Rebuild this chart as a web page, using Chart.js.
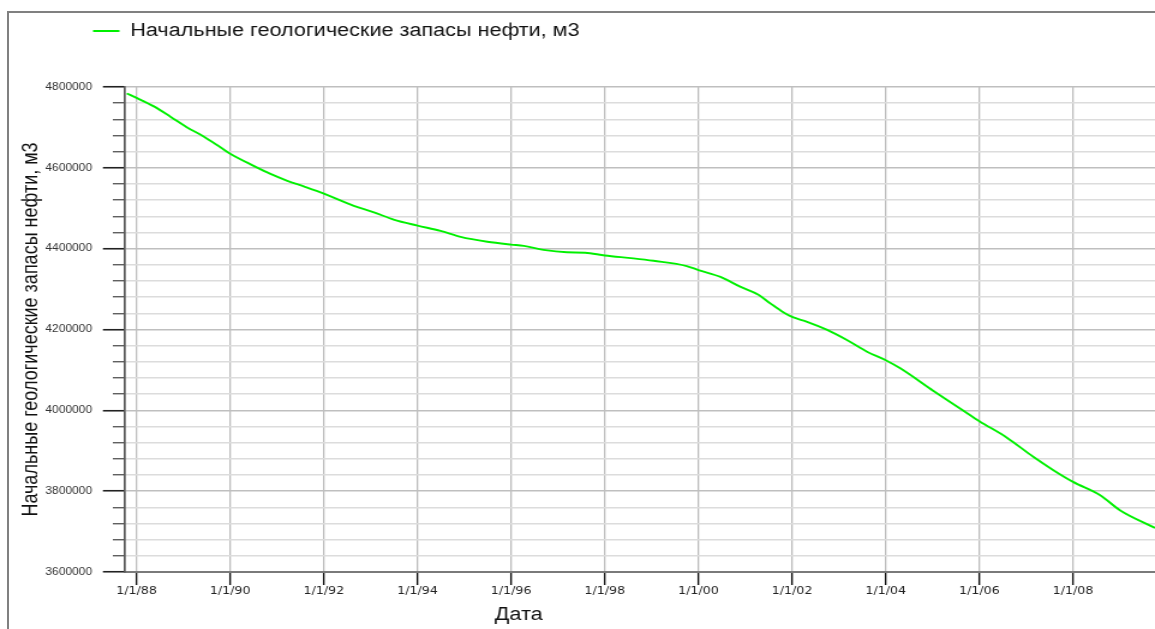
<!DOCTYPE html>
<html>
<head>
<meta charset="utf-8">
<script src="https://cdn.jsdelivr.net/npm/chart.js@4.4.1/dist/chart.umd.min.js"></script>
<style>
html, body { margin: 0; padding: 0; background: #fff; overflow: hidden; }
/* the original picture is stretched 1.2x horizontally, so the chart is drawn narrow and scaled */
#wrap { position: absolute; left: 0; top: 0; width: 962px; height: 629px; transform: scaleX(1.2006); transform-origin: 0 0; }
#frame { position: absolute; left: 7px; top: 11px; width: 1160px; height: 630px; border-left: 2px solid #808080; border-top: 2px solid #808080; }
</style>
</head>
<body>
<div id="wrap"><canvas id="chart" width="962" height="629"></canvas></div>
<div id="frame"></div>
<script>
// data (x = decimal year)
const years = [1987.79, 1988.0, 1988.37, 1988.73, 1989.08, 1989.44, 1989.79, 1990.0, 1990.5, 1990.86,
    1991.22, 1991.57, 1992.0, 1992.64, 1993.07, 1993.49, 1994.0, 1994.49, 1994.92, 1995.49,
    1996.0, 1996.27, 1996.69, 1997.19, 1997.58, 1998.0, 1998.61, 1999.04, 1999.75, 2000.0,
    2000.47, 2000.89, 2001.28, 2001.53, 2001.82, 2002.0, 2002.32, 2002.75, 2003.17, 2003.6,
    2004.0, 2004.31, 2005.02, 2005.66, 2006.0, 2006.58, 2007.15, 2007.58, 2008.0, 2008.58,
    2009.0, 2009.75];
const reserves = [4784000, 4773000, 4752000, 4726000, 4700000, 4677000, 4651000, 4635000, 4605000, 4585000,
    4568000, 4554000, 4536000, 4506000, 4490000, 4472000, 4457000, 4444000, 4429000, 4417000,
    4410000, 4407000, 4397000, 4391000, 4390000, 4383000, 4376000, 4370000, 4357000, 4347000,
    4330000, 4306000, 4286000, 4265000, 4242000, 4231000, 4219000, 4199000, 4174000, 4145000,
    4124000, 4104000, 4048000, 3999000, 3973000, 3933000, 3885000, 3852000, 3823000, 3790000,
    3753000, 3709000];

const xTickYears = [1988, 1990, 1992, 1994, 1996, 1998, 2000, 2002, 2004, 2006, 2008];
const xTickLabels = ['1/1/88', '1/1/90', '1/1/92', '1/1/94', '1/1/96', '1/1/98', '1/1/00', '1/1/02', '1/1/04', '1/1/06', '1/1/08'];
const yMajorTicks = [3600000, 3800000, 4000000, 4200000, 4400000, 4600000, 4800000];
const yTickLabels = ['3600000', '3800000', '4000000', '4200000', '4400000', '4600000', '4800000'];
const yMinorStep = 40000;

const seriesLabel = 'Начальные геологические запасы нефти, м3';
const yTitle = 'Начальные геологические запасы нефти, м3';
const xTitle = 'Дата';

const xMin = 1987.75, xMax = 2009.75;
const yMin = 3600000, yMax = 4800000;

const sans = '"Liberation Sans", Arial, sans-serif';

const layoutTweaks = {
    id: 'layoutTweaks',
    beforeLayout(chart) {
        const lg = chart.legend;
        if (lg && !lg._tweaked) {
            const fit = lg.fit;
            lg.fit = function () {
                fit.call(this);
                this.height = 75; // gap down to the plot
            };
            lg._tweaked = true;
        }
    },
    afterLayout(chart) {
        chart.legend.left = 67.5;
    },
    afterDraw(chart) {
        const ctx = chart.ctx;
        ctx.save();
        ctx.font = '18px ' + sans;
        ctx.fillStyle = '#111';
        ctx.textAlign = 'center';
        ctx.textBaseline = 'alphabetic';
        ctx.fillText(xTitle, 432, 619.5);
        ctx.restore();
    }
};

const isMajor = (v) => v % 200000 === 0;

new Chart(document.getElementById('chart'), {
    type: 'line',
    data: {
        datasets: [{
            label: seriesLabel,
            data: years.map((y, i) => ({ x: y, y: reserves[i] })),
            borderColor: '#00f000',
            backgroundColor: '#00f000',
            borderWidth: 1.9,
            pointRadius: 0,
            cubicInterpolationMode: 'monotone',
            fill: false,
            yAxisID: 'y'
        }]
    },
    options: {
        responsive: false,
        animation: false,
        devicePixelRatio: 1,
        layout: { padding: { top: 12, left: 0, right: 0, bottom: 0 } },
        plugins: {
            legend: {
                position: 'top',
                align: 'start',
                labels: {
                    usePointStyle: true,
                    pointStyle: 'line',
                    pointStyleWidth: 22,
                    padding: 10,
                    color: '#111',
                    font: { family: sans, size: 18 }
                }
            },
            tooltip: { enabled: false }
        },
        scales: {
            x: {
                type: 'linear',
                position: 'bottom',
                min: xMin,
                max: xMax,
                afterBuildTicks: (s) => { s.ticks = xTickYears.map(v => ({ value: v })); },
                afterFit: (s) => { s.height = 57; },
                ticks: {
                    callback: (v, i) => xTickLabels[i],
                    autoSkip: false,
                    maxRotation: 0,
                    padding: 0,
                    color: '#222',
                    font: { family: '"DejaVu Sans", Verdana, sans-serif', size: 10.5 }
                },
                grid: {
                    color: '#bdbdbd',
                    lineWidth: 1.3,
                    tickLength: 13,
                    tickColor: '#111',
                    tickWidth: 1.4
                },
                border: { color: '#7a7a7a', width: 2 }
            },
            yMinor: {
                type: 'linear',
                position: 'left',
                weight: 0,
                min: yMin,
                max: yMax,
                afterFit: (s) => { s.width = 0; },
                ticks: { display: false, stepSize: yMinorStep },
                grid: {
                    lineWidth: 1.5,
                    color: (c) => isMajor(c.tick.value) ? 'rgba(0,0,0,0)' : '#dcdcdc',
                    tickLength: 10,
                    tickColor: (c) => isMajor(c.tick.value) ? 'rgba(0,0,0,0)' : '#444',
                    tickWidth: 1.2
                },
                border: { display: false }
            },
            y: {
                type: 'linear',
                position: 'left',
                weight: 1,
                min: yMin,
                max: yMax,
                afterBuildTicks: (s) => { s.ticks = yMajorTicks.map(v => ({ value: v })); },
                afterFit: (s) => { s.width = 104; },
                ticks: {
                    callback: (v, i) => yTickLabels[i],
                    padding: 9,
                    color: '#333',
                    font: { family: sans, size: 10 }
                },
                grid: {
                    color: '#bfbfbf',
                    lineWidth: 1.5,
                    tickLength: 18.3,
                    tickColor: '#222',
                    tickWidth: 1.6
                },
                border: { color: '#555', width: 1.7 },
                title: {
                    display: true,
                    text: yTitle,
                    color: '#111',
                    font: { family: sans, size: 18 },
                    padding: { top: 15, bottom: 0 }
                }
            }
        }
    },
    plugins: [layoutTweaks]
});
</script>
</body>
</html>
